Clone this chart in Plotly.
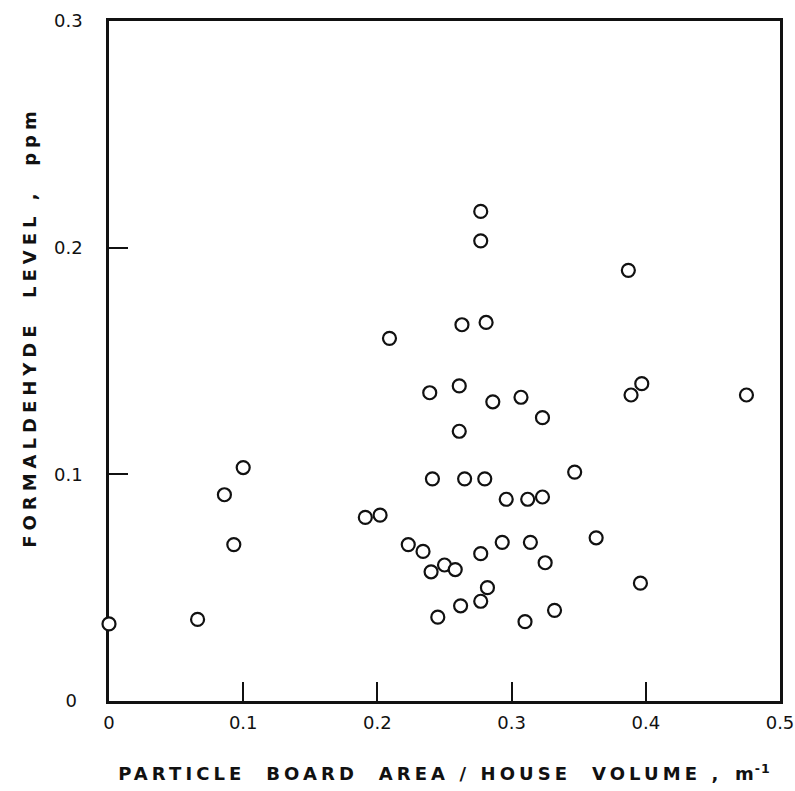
import plotly.graph_objects as go

# Particle board area / house volume (m^-1)
board_ratio = [0.000, 0.066, 0.086, 0.093, 0.100, 0.191, 0.202, 0.209, 0.223, 0.234,
               0.239, 0.240, 0.241, 0.245, 0.250, 0.258, 0.261, 0.261, 0.262, 0.263,
               0.265, 0.277, 0.277, 0.277, 0.277, 0.280, 0.281, 0.282, 0.286, 0.293,
               0.296, 0.307, 0.310, 0.312, 0.314, 0.323, 0.323, 0.325, 0.332, 0.347,
               0.363, 0.387, 0.389, 0.396, 0.397, 0.475]
# Formaldehyde level (ppm)
formaldehyde = [0.034, 0.036, 0.091, 0.069, 0.103, 0.081, 0.082, 0.160, 0.069, 0.066,
                0.136, 0.057, 0.098, 0.037, 0.060, 0.058, 0.139, 0.119, 0.042, 0.166,
                0.098, 0.216, 0.203, 0.065, 0.044, 0.098, 0.167, 0.050, 0.132, 0.070,
                0.089, 0.134, 0.035, 0.089, 0.070, 0.125, 0.090, 0.061, 0.040, 0.101,
                0.072, 0.190, 0.135, 0.052, 0.140, 0.135]

x_ticks = [0, 0.1, 0.2, 0.3, 0.4, 0.5]
x_tick_labels = ["0", "0.1", "0.2", "0.3", "0.4", "0.5"]
y_ticks = [0, 0.1, 0.2, 0.3]
y_tick_labels = ["0\u2008", "0.1", "0.2", "0.3"]

x_title = "PARTICLE  BOARD  AREA / HOUSE  VOLUME ,"
y_title = "FORMALDEHYDE  LEVEL ,  ppm"

INK = "#111111"
FONT = "DejaVu Sans"

fig = go.Figure()
fig.add_trace(go.Scatter(
    x=board_ratio, y=formaldehyde, mode="markers",
    marker=dict(symbol="circle", size=13, color="white",
                line=dict(color=INK, width=2.2)),
    cliponaxis=False, showlegend=False,
))

def spaced(txt, ls=5):
    return f'<span style="letter-spacing:{ls}px">{txt}</span>'

tick_font = dict(size=18, family=FONT, color=INK)
title_font = dict(size=18, family=FONT, color=INK, weight=600)

fig.update_layout(
    width=795, height=791, autosize=False,
    margin=dict(l=109, r=15, t=21, b=90),
    paper_bgcolor="white", plot_bgcolor="white",
    font=dict(family=FONT, color=INK),
    xaxis=dict(
        range=[0, 0.5], tickvals=x_ticks, ticktext=x_tick_labels,
        ticks="inside", ticklen=19, tickwidth=1.8, tickcolor=INK,
        showline=True, linewidth=2.5, linecolor=INK, mirror=True,
        showgrid=False, zeroline=False, layer="below traces",
        tickfont=tick_font, automargin=False, ticklabeloverflow="allow",
        ticklabelstandoff=4,
        title=dict(text=spaced(x_title, 4.1) + "  " + spaced("m<sup>-1</sup>", 1),
                   font=title_font, standoff=36),
    ),
    yaxis=dict(
        range=[0, 0.3], tickvals=y_ticks, ticktext=y_tick_labels,
        ticks="inside", ticklen=19, tickwidth=1.8, tickcolor=INK,
        showline=True, linewidth=2.5, linecolor=INK, mirror=True,
        showgrid=False, zeroline=False, layer="below traces",
        tickfont=tick_font, automargin=False, ticklabeloverflow="allow",
        ticklabelstandoff=20,
    ),
    annotations=[dict(
        text=spaced(y_title, 5.0), textangle=-90,
        xref="paper", yref="paper", x=-0.118, y=0.55,
        xanchor="center", yanchor="middle", showarrow=False,
        font=title_font,
    )],
)

fig.write_html("out.html")
